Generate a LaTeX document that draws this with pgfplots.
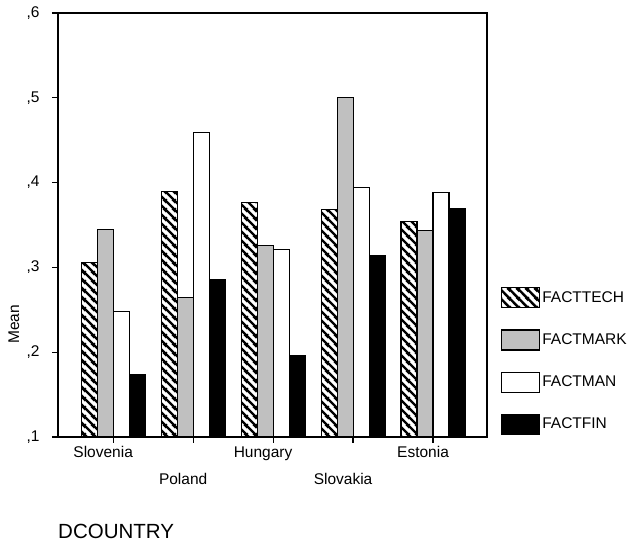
\documentclass[border=0pt]{standalone}
\usepackage{fontspec}
\setmainfont{Liberation Sans}
\usepackage{pgfplots}
\usepackage{pgfplotstable}
\pgfplotsset{compat=1.18}
\usetikzlibrary{patterns}
\definecolor{spssgray}{RGB}{192,192,192}
\pgfdeclarepatternformonly{spsshatch}{\pgfqpoint{0pt}{0pt}}{\pgfqpoint{8.5pt}{8.5pt}}{\pgfqpoint{8.5pt}{8.5pt}}{
  \pgfsetlinewidth{2.5pt}
  \pgfpathmoveto{\pgfqpoint{-8.5pt}{8.5pt}}\pgfpathlineto{\pgfqpoint{8.5pt}{-8.5pt}}
  \pgfpathmoveto{\pgfqpoint{-8.5pt}{17pt}}\pgfpathlineto{\pgfqpoint{17pt}{-8.5pt}}
  \pgfpathmoveto{\pgfqpoint{-8.5pt}{25.5pt}}\pgfpathlineto{\pgfqpoint{25.5pt}{-8.5pt}}
  \pgfusepath{stroke}}
\pgfplotstableread{
x tech mark man fin
0 0.306 0.345 0.248 0.174
1 0.389 0.264 0.459 0.286
2 0.376 0.326 0.321 0.196
3 0.368 0.500 0.394 0.314
4 0.354 0.343 0.388 0.369
}\data
\newcommand{\fs}{\fontsize{15.5}{18}\selectfont}
\begin{document}
\begin{tikzpicture}[x=1pt,y=1pt]
\useasboundingbox (-58,-108) rectangle (574,437);
\begin{axis}[
  at={(0,0)}, anchor=south west,
  scale only axis, width=429pt, height=424pt,
  ymin=0.1, ymax=0.6,
  ytick={0.1,0.2,0.3,0.4,0.5,0.6},
  yticklabels={{,1},{,2},{,3},{,4},{,5},{,6}},
  xmin=-0.69, xmax=4.675,
  xtick={0,2,4}, xticklabels={Slovenia,Hungary,Estonia},
  extra x ticks={1,3}, extra x tick labels={Poland,Slovakia},
  extra x tick style={xticklabel style={yshift=-27pt}},
  tick align=outside, major tick length=6pt,
  xtick pos=left, ytick pos=left,
  axis line style={line width=1.2pt},
  every tick/.style={line width=1.2pt, black},
  ticklabel style={font=\fs},
  xticklabel style={xshift=-10pt},
  yticklabel style={xshift=-9pt},
  ylabel={Mean},
  ylabel style={at={(axis description cs:-0.1026,0.266)}, anchor=center, font=\fs},
  xlabel={DCOUNTRY},
  xlabel style={at={(axis description cs:0,0)}, anchor=west, yshift=-94pt, inner sep=0pt, font=\fontsize{20.5}{24}\selectfont},
  ybar=0pt, bar width=16pt,
  legend image code/.code={\draw[#1, line width=1.1pt] (0pt,-10pt) rectangle (38pt,10pt);},
  legend style={at={(1,0)}, anchor=south west, xshift=14pt, yshift=2pt, draw=none, fill=none, inner sep=0pt, row sep=21pt, font=\fs, nodes={inner sep=0pt}},
  legend cell align=left,
  /tikz/every odd column/.append style={column sep=2pt},
]
\addplot[draw=black, line width=1.1pt, pattern=spsshatch] table[x=x,y=tech]{\data};
\addplot[draw=black, line width=1.1pt, fill=spssgray] table[x=x,y=mark]{\data};
\addplot[draw=black, line width=1.1pt, fill=white] table[x=x,y=man]{\data};
\addplot[draw=black, line width=1.1pt, fill=black] table[x=x,y=fin]{\data};
\legend{FACTTECH,FACTMARK,FACTMAN,FACTFIN}
\end{axis}
\end{tikzpicture}
\end{document}
